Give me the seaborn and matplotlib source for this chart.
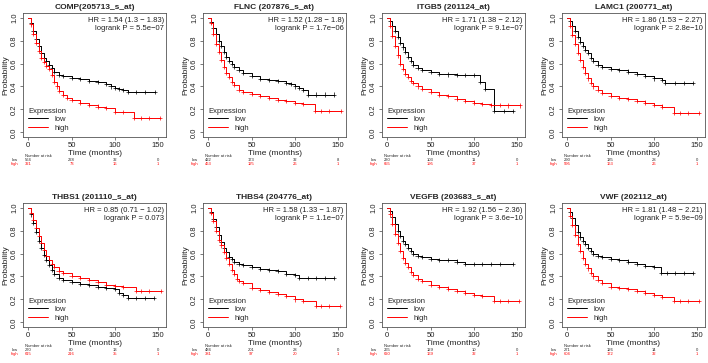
import pandas as pd
import matplotlib
matplotlib.use('Agg')
import matplotlib.pyplot as plt
import matplotlib.transforms as mtransforms
from matplotlib.lines import Line2D
import seaborn as sns

# Panel titles and stats
titles = ['COMP(205713_s_at)', 'FLNC (207876_s_at)', 'ITGB5 (201124_at)', 'LAMC1 (200771_at)',
          'THBS1 (201110_s_at)', 'THBS4 (204776_at)', 'VEGFB (203683_s_at)', 'VWF (202112_at)']
hr_text = ['HR = 1.54 (1.3 \u2212 1.83)', 'HR = 1.52 (1.28 \u2212 1.8)', 'HR = 1.71 (1.38 \u2212 2.12)',
           'HR = 1.86 (1.53 \u2212 2.27)', 'HR = 0.85 (0.71 \u2212 1.02)', 'HR = 1.58 (1.33 \u2212 1.87)',
           'HR = 1.92 (1.56 \u2212 2.36)', 'HR = 1.81 (1.48 \u2212 2.21)']
p_text = ['logrank P = 5.5e\u221207', 'logrank P = 1.7e\u221206', 'logrank P = 9.1e\u221207',
          'logrank P = 2.8e\u221210', 'logrank P = 0.073', 'logrank P = 1.1e\u221207',
          'logrank P = 3.6e\u221210', 'logrank P = 5.9e\u221209']

# Number at risk at 0, 50, 100, 150 months
risk_times = [0, 50, 100, 150]
risk_low = [[564, 228, 32, 0], [422, 173, 32, 8], [230, 103, 11, 0], [290, 135, 28, 0],
            [270, 80, 13, 0], [484, 201, 28, 0], [265, 129, 10, 0], [271, 126, 14, 0]]
risk_high = [[321, 73, 16, 1], [463, 125, 26, 1], [655, 195, 37, 1], [595, 163, 26, 1],
             [615, 216, 35, 1], [381, 97, 20, 1], [620, 169, 32, 1], [604, 172, 32, 1]]

# Survival curves (time in months, survival probability)
comp_low_t = [0, 3, 6, 9, 12, 15, 18, 21, 24, 27, 30, 35, 40, 50, 60, 70, 80, 90, 95, 100, 105, 110, 115, 125, 135, 146]
comp_low_s = [1.0, 0.95, 0.88, 0.81, 0.75, 0.69, 0.65, 0.62, 0.59, 0.56, 0.53, 0.50, 0.49, 0.475, 0.465, 0.45, 0.44, 0.42, 0.40, 0.39, 0.38, 0.37, 0.355, 0.355, 0.355, 0.355]
comp_high_t = [0, 3, 6, 9, 12, 15, 18, 21, 24, 27, 30, 33, 36, 40, 45, 50, 60, 70, 80, 90, 100, 110, 122, 130, 140, 152]
comp_high_s = [1.0, 0.94, 0.86, 0.78, 0.71, 0.65, 0.61, 0.58, 0.55, 0.50, 0.44, 0.40, 0.36, 0.33, 0.30, 0.28, 0.26, 0.24, 0.225, 0.21, 0.18, 0.18, 0.125, 0.125, 0.125, 0.125]

flnc_low_t = [0, 3, 6, 9, 12, 15, 18, 21, 24, 27, 30, 35, 40, 50, 60, 70, 80, 90, 95, 100, 105, 110, 115, 125, 135, 145]
flnc_low_s = [1.0, 0.96, 0.91, 0.86, 0.80, 0.75, 0.70, 0.66, 0.62, 0.60, 0.57, 0.54, 0.52, 0.49, 0.465, 0.455, 0.445, 0.43, 0.42, 0.40, 0.385, 0.37, 0.33, 0.33, 0.33, 0.33]
flnc_high_t = [0, 3, 6, 9, 12, 15, 18, 21, 24, 27, 30, 35, 40, 50, 60, 70, 80, 90, 100, 110, 123, 130, 140, 153]
flnc_high_s = [1.0, 0.95, 0.86, 0.77, 0.70, 0.63, 0.57, 0.52, 0.48, 0.44, 0.41, 0.37, 0.35, 0.335, 0.315, 0.30, 0.285, 0.27, 0.255, 0.245, 0.19, 0.19, 0.19, 0.19]

itgb5_low_t = [0, 3, 6, 9, 12, 15, 18, 21, 24, 27, 30, 35, 40, 50, 60, 70, 80, 90, 100, 107, 113, 123, 135, 145]
itgb5_low_s = [1.0, 0.97, 0.93, 0.88, 0.83, 0.78, 0.74, 0.70, 0.66, 0.62, 0.59, 0.56, 0.545, 0.525, 0.51, 0.505, 0.50, 0.50, 0.50, 0.44, 0.38, 0.19, 0.19, 0.19]
itgb5_high_t = [0, 3, 6, 9, 12, 15, 18, 21, 24, 27, 30, 35, 40, 50, 60, 70, 80, 90, 100, 110, 120, 130, 140, 153]
itgb5_high_s = [1.0, 0.93, 0.84, 0.75, 0.67, 0.60, 0.55, 0.51, 0.48, 0.45, 0.43, 0.40, 0.38, 0.35, 0.33, 0.315, 0.295, 0.275, 0.26, 0.245, 0.24, 0.24, 0.235, 0.235]

lamc1_low_t = [0, 3, 6, 9, 12, 15, 18, 21, 24, 27, 30, 35, 40, 50, 60, 70, 80, 90, 100, 110, 113, 125, 135, 145]
lamc1_low_s = [1.0, 0.97, 0.93, 0.88, 0.83, 0.79, 0.75, 0.72, 0.69, 0.65, 0.62, 0.59, 0.57, 0.555, 0.545, 0.53, 0.51, 0.49, 0.47, 0.46, 0.43, 0.43, 0.43, 0.43]
lamc1_high_t = [0, 3, 6, 9, 12, 15, 18, 21, 24, 27, 30, 35, 40, 50, 60, 70, 80, 90, 100, 110, 123, 130, 140, 152]
lamc1_high_s = [1.0, 0.93, 0.85, 0.77, 0.69, 0.63, 0.57, 0.52, 0.47, 0.43, 0.40, 0.37, 0.345, 0.32, 0.30, 0.29, 0.275, 0.26, 0.24, 0.225, 0.17, 0.17, 0.17, 0.17]

thbs1_low_t = [0, 3, 6, 9, 12, 15, 18, 21, 24, 27, 30, 35, 40, 50, 60, 70, 80, 90, 100, 105, 110, 115, 125, 135, 145]
thbs1_low_s = [1.0, 0.94, 0.87, 0.79, 0.71, 0.65, 0.59, 0.54, 0.50, 0.46, 0.42, 0.39, 0.37, 0.35, 0.335, 0.325, 0.31, 0.30, 0.29, 0.26, 0.24, 0.21, 0.21, 0.21, 0.21]
thbs1_high_t = [0, 3, 6, 9, 12, 15, 18, 21, 24, 27, 30, 35, 40, 50, 60, 70, 80, 90, 100, 110, 124, 130, 140, 153]
thbs1_high_s = [1.0, 0.95, 0.89, 0.82, 0.75, 0.69, 0.63, 0.58, 0.54, 0.51, 0.48, 0.45, 0.43, 0.405, 0.39, 0.37, 0.35, 0.33, 0.32, 0.31, 0.27, 0.27, 0.27, 0.27]

thbs4_low_t = [0, 3, 6, 9, 12, 15, 18, 21, 24, 27, 30, 35, 40, 50, 60, 70, 80, 90, 100, 105, 115, 125, 135, 145]
thbs4_low_s = [1.0, 0.96, 0.90, 0.83, 0.76, 0.70, 0.65, 0.61, 0.57, 0.55, 0.53, 0.51, 0.50, 0.48, 0.465, 0.455, 0.445, 0.425, 0.41, 0.39, 0.39, 0.39, 0.39, 0.39]
thbs4_high_t = [0, 3, 6, 9, 12, 15, 18, 21, 24, 27, 30, 33, 36, 40, 50, 60, 70, 80, 90, 100, 110, 124, 130, 140, 152]
thbs4_high_s = [1.0, 0.95, 0.88, 0.80, 0.72, 0.67, 0.61, 0.56, 0.51, 0.46, 0.42, 0.38, 0.36, 0.34, 0.30, 0.28, 0.265, 0.25, 0.23, 0.20, 0.19, 0.14, 0.14, 0.14, 0.14]

vegfb_low_t = [0, 3, 6, 9, 12, 15, 18, 21, 24, 27, 30, 35, 40, 50, 60, 70, 80, 90, 100, 110, 120, 130, 145]
vegfb_low_s = [1.0, 0.97, 0.92, 0.86, 0.80, 0.75, 0.71, 0.68, 0.65, 0.62, 0.60, 0.58, 0.57, 0.555, 0.545, 0.54, 0.53, 0.51, 0.51, 0.51, 0.51, 0.51, 0.51]
vegfb_high_t = [0, 3, 6, 9, 12, 15, 18, 21, 24, 27, 30, 35, 40, 50, 60, 70, 80, 90, 100, 110, 123, 130, 140, 152]
vegfb_high_s = [1.0, 0.94, 0.86, 0.77, 0.69, 0.62, 0.56, 0.52, 0.48, 0.44, 0.41, 0.38, 0.36, 0.33, 0.31, 0.295, 0.275, 0.26, 0.24, 0.23, 0.19, 0.19, 0.19, 0.19]

vwf_low_t = [0, 3, 6, 9, 12, 15, 18, 21, 24, 27, 30, 35, 40, 50, 60, 70, 80, 90, 100, 108, 115, 125, 135, 145]
vwf_low_s = [1.0, 0.96, 0.91, 0.85, 0.79, 0.74, 0.71, 0.68, 0.65, 0.62, 0.60, 0.58, 0.57, 0.55, 0.54, 0.53, 0.51, 0.49, 0.48, 0.43, 0.43, 0.43, 0.43, 0.43]
vwf_high_t = [0, 3, 6, 9, 12, 15, 18, 21, 24, 27, 30, 35, 40, 50, 60, 70, 80, 90, 100, 110, 123, 130, 140, 152]
vwf_high_s = [1.0, 0.93, 0.85, 0.76, 0.68, 0.62, 0.56, 0.51, 0.47, 0.43, 0.40, 0.37, 0.34, 0.31, 0.30, 0.29, 0.275, 0.26, 0.24, 0.22, 0.19, 0.19, 0.19, 0.19]

curves = [
    (comp_low_t, comp_low_s, comp_high_t, comp_high_s),
    (flnc_low_t, flnc_low_s, flnc_high_t, flnc_high_s),
    (itgb5_low_t, itgb5_low_s, itgb5_high_t, itgb5_high_s),
    (lamc1_low_t, lamc1_low_s, lamc1_high_t, lamc1_high_s),
    (thbs1_low_t, thbs1_low_s, thbs1_high_t, thbs1_high_s),
    (thbs4_low_t, thbs4_low_s, thbs4_high_t, thbs4_high_s),
    (vegfb_low_t, vegfb_low_s, vegfb_high_t, vegfb_high_s),
    (vwf_low_t, vwf_low_s, vwf_high_t, vwf_high_s),
]

sns.set_theme(style='ticks')
plt.rcParams['font.family'] = ['Liberation Sans', 'DejaVu Sans']
palette = {'low': 'black', 'high': '#ff0000'}

W, H = 708, 363
fig = plt.figure(figsize=(W / 100, H / 100), dpi=100)
col_left = [23, 203, 382, 562]
row_top = [13, 203]
ax_w, ax_h = 143, 124

for i in range(8):
    r, c = divmod(i, 4)
    left = col_left[c] / W
    bottom = 1 - (row_top[r] + ax_h) / H
    ax = fig.add_axes([left, bottom, ax_w / W, ax_h / H])

    lt, ls, ht, hs = curves[i]
    df = pd.concat([
        pd.DataFrame({'time': lt, 'surv': ls, 'group': 'low'}),
        pd.DataFrame({'time': ht, 'surv': hs, 'group': 'high'}),
    ], ignore_index=True)

    sns.lineplot(data=df, x='time', y='surv', hue='group', palette=palette,
                 drawstyle='steps-post', estimator=None, sort=False,
                 linewidth=0.7, legend=False, ax=ax)
    cens = df[df['time'] > 0]
    sns.scatterplot(data=cens, x='time', y='surv', hue='group', palette=palette,
                    marker='+', s=9, linewidth=0.5, legend=False, ax=ax)

    ax.set_xlim(-6.1, 159.1)
    ax.set_ylim(-0.04, 1.04)
    ax.set_xticks([0, 50, 100, 150])
    ax.set_yticks([0.0, 0.2, 0.4, 0.6, 0.8, 1.0])
    ax.set_yticklabels(['0.0', '0.2', '0.4', '0.6', '0.8', '1.0'], rotation=90, va='center')
    ax.tick_params(labelsize=5.5, length=2.5, width=0.5, pad=1, color='#444444', labelcolor='#222222')
    for sp in ax.spines.values():
        sp.set_linewidth(0.6)
        sp.set_color('#555555')
    ax.set_xlabel('Time (months)', fontsize=6, labelpad=0.5, color='#222222')
    ax.set_ylabel('Probability', fontsize=6, labelpad=1.5, color='#222222')
    ax.set_title(titles[i], fontsize=6, fontweight='bold', pad=3)

    ax.text(0.985, 0.97, hr_text[i] + '\n' + p_text[i], transform=ax.transAxes,
            ha='right', va='top', fontsize=5.5, linespacing=1.25, color='#222222')

    handles = [Line2D([], [], color='black', lw=0.7), Line2D([], [], color='#ff0000', lw=0.7)]
    leg = ax.legend(handles, ['low', 'high'], title='Expression', loc='lower left',
                    frameon=False, fontsize=5.5, title_fontsize=5.5, handlelength=2.6,
                    borderaxespad=0.3, labelspacing=0.15, handletextpad=0.8)
    leg._legend_box.align = 'left'

    # Number at risk table below the axes
    trans = mtransforms.blended_transform_factory(ax.transData, ax.transAxes)
    ax.text(-4, -0.15, 'Number at risk', transform=trans, fontsize=3, ha='left', va='center')
    ax.text(-12, -0.185, 'low', transform=trans, fontsize=3, ha='right', va='center')
    ax.text(-12, -0.22, 'high', transform=trans, fontsize=3, ha='right', va='center', color='#ff0000')
    for t, nl, nh in zip(risk_times, risk_low[i], risk_high[i]):
        ax.text(t, -0.185, str(nl), transform=trans, fontsize=3, ha='center', va='center')
        ax.text(t, -0.22, str(nh), transform=trans, fontsize=3, ha='center', va='center', color='#ff0000')

fig.savefig('out.png', dpi=100)
